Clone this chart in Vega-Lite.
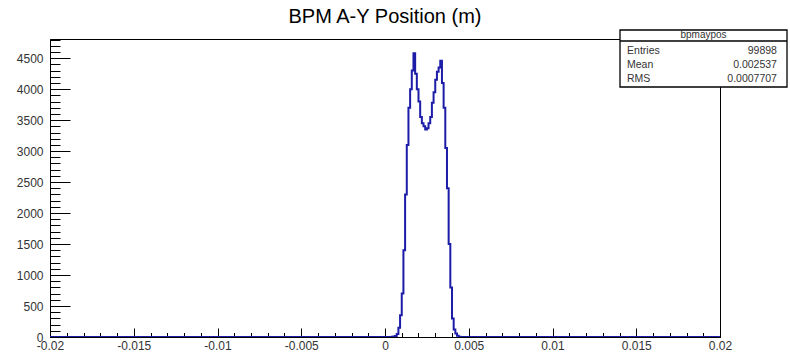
{
  "$schema": "https://vega.github.io/schema/vega-lite/v6.json",
  "width": 670,
  "height": 298,
  "autosize": {"type": "none"},
  "padding": {"left": 50, "top": 39, "right": 70, "bottom": 17},
  "background": "white",
  "view": {"stroke": "black", "strokeWidth": 1},
  "config": {"font": "Liberation Sans"},
  "title": {"text": "BPM A-Y Position (m)", "fontSize": 20, "fontWeight": "normal", "anchor": "middle", "offset": 2, "color": "black", "font": "Liberation Sans"},
  "datasets": {
    "hist": [
      {"x": -0.02, "n": 0},
      {"x": 0.0004, "n": 3},
      {"x": 0.0005, "n": 8},
      {"x": 0.0006, "n": 15},
      {"x": 0.0007, "n": 50},
      {"x": 0.0008, "n": 150},
      {"x": 0.0009, "n": 350},
      {"x": 0.0010, "n": 700},
      {"x": 0.0011, "n": 1400},
      {"x": 0.0012, "n": 2300},
      {"x": 0.0013, "n": 3100},
      {"x": 0.0014, "n": 3700},
      {"x": 0.0015, "n": 4000},
      {"x": 0.0016, "n": 4300},
      {"x": 0.0017, "n": 4580},
      {"x": 0.0018, "n": 4250},
      {"x": 0.0019, "n": 4000},
      {"x": 0.0020, "n": 3800},
      {"x": 0.0021, "n": 3550},
      {"x": 0.0022, "n": 3450},
      {"x": 0.0023, "n": 3400},
      {"x": 0.0024, "n": 3350},
      {"x": 0.0025, "n": 3370},
      {"x": 0.0026, "n": 3450},
      {"x": 0.0027, "n": 3550},
      {"x": 0.0028, "n": 3780},
      {"x": 0.0029, "n": 3950},
      {"x": 0.0030, "n": 4150},
      {"x": 0.0031, "n": 4280},
      {"x": 0.0032, "n": 4350},
      {"x": 0.0033, "n": 4460},
      {"x": 0.0034, "n": 4100},
      {"x": 0.0035, "n": 3700},
      {"x": 0.0036, "n": 3050},
      {"x": 0.0037, "n": 2400},
      {"x": 0.0038, "n": 1500},
      {"x": 0.0039, "n": 800},
      {"x": 0.0040, "n": 300},
      {"x": 0.0041, "n": 120},
      {"x": 0.0042, "n": 55},
      {"x": 0.0043, "n": 20},
      {"x": 0.0044, "n": 6},
      {"x": 0.0045, "n": 2},
      {"x": 0.0046, "n": 0},
      {"x": 0.02, "n": 0}
    ],
    "one": [{}]
  },
  "layer": [
    {
      "data": {"name": "hist"},
      "mark": {"type": "line", "interpolate": "step-after", "color": "#1c1ca8", "strokeWidth": 2, "clip": true},
      "encoding": {
        "x": {"field": "x", "type": "quantitative", "scale": {"domain": [-0.02, 0.02], "nice": false, "zero": false},
          "axis": {"orient": "bottom", "values": [-0.02, -0.015, -0.01, -0.005, 0, 0.005, 0.01, 0.015, 0.02], "labelExpr": "'' + datum.value", "tickSize": -9, "labelPadding": 12, "labelFontSize": 12, "labelColor": "#333", "tickColor": "black", "domainColor": "black", "title": null, "grid": false, "labelOverlap": false, "labelFlush": false, "labelBound": false}},
        "y": {"field": "n", "type": "quantitative", "scale": {"domain": [0, 4809], "nice": false},
          "axis": {"orient": "left", "values": [0, 500, 1000, 1500, 2000, 2500, 3000, 3500, 4000, 4500], "format": "d", "tickSize": -20, "labelPadding": 27, "labelFontSize": 12, "labelColor": "#333", "tickColor": "black", "domainColor": "black", "title": null, "grid": false, "labelOverlap": false, "labelFlush": false, "labelBound": false}}
      }
    },
    {
      "data": {"name": "hist"},
      "mark": {"type": "line", "opacity": 0},
      "encoding": {
        "x": {"field": "x", "type": "quantitative",
          "axis": {"orient": "bottom", "values": [-0.02, -0.019, -0.018, -0.017, -0.016, -0.015, -0.014, -0.013, -0.012, -0.011, -0.01, -0.009, -0.008, -0.007, -0.006, -0.005, -0.004, -0.003, -0.002, -0.001, 0, 0.001, 0.002, 0.003, 0.004, 0.005, 0.006, 0.007, 0.008, 0.009, 0.01, 0.011, 0.012, 0.013, 0.014, 0.015, 0.016, 0.017, 0.018, 0.019, 0.02], "tickSize": -4.5, "labels": false, "domain": false, "title": null, "grid": false, "tickColor": "black"}},
        "y": {"field": "n", "type": "quantitative",
          "axis": {"orient": "left", "values": [0, 100, 200, 300, 400, 500, 600, 700, 800, 900, 1000, 1100, 1200, 1300, 1400, 1500, 1600, 1700, 1800, 1900, 2000, 2100, 2200, 2300, 2400, 2500, 2600, 2700, 2800, 2900, 3000, 3100, 3200, 3300, 3400, 3500, 3600, 3700, 3800, 3900, 4000, 4100, 4200, 4300, 4400, 4500, 4600, 4700, 4800], "tickSize": -10, "labels": false, "domain": false, "title": null, "grid": false, "tickColor": "black"}}
      }
    },
    {
      "data": {"name": "one"},
      "mark": {"type": "rect", "fill": "white", "stroke": "black", "strokeWidth": 1.3, "clip": false},
      "encoding": {
        "x": {"datum": 0.01403, "type": "quantitative", "axis": null},
        "x2": {"datum": 0.0240},
        "y": {"datum": 4954, "type": "quantitative", "axis": null},
        "y2": {"datum": 4034}
      }
    },
    {
      "data": {"name": "one"},
      "mark": {"type": "rule", "stroke": "black", "strokeWidth": 1.3, "clip": false},
      "encoding": {
        "x": {"datum": 0.01403, "type": "quantitative", "axis": null},
        "x2": {"datum": 0.0240},
        "y": {"datum": 4777, "type": "quantitative", "axis": null}
      }
    },
    {
      "data": {"name": "one"},
      "mark": {"type": "text", "text": "bpmaypos", "fontSize": 10, "align": "center", "baseline": "middle", "color": "#333", "clip": false},
      "encoding": {
        "x": {"datum": 0.019015, "type": "quantitative", "axis": null},
        "y": {"datum": 4866, "type": "quantitative", "axis": null}
      }
    },
    {
      "data": {"name": "one"},
      "mark": {"type": "text", "text": ["Entries", "Mean", "RMS"], "lineHeight": 14, "fontSize": 10.5, "align": "left", "baseline": "alphabetic", "color": "#333", "clip": false},
      "encoding": {
        "x": {"datum": 0.01445, "type": "quantitative", "axis": null},
        "y": {"datum": 4575, "type": "quantitative", "axis": null}
      }
    },
    {
      "data": {"name": "one"},
      "mark": {"type": "text", "text": ["99898", "0.002537", "0.0007707"], "lineHeight": 14, "fontSize": 10.5, "align": "right", "baseline": "alphabetic", "color": "#333", "clip": false},
      "encoding": {
        "x": {"datum": 0.0234, "type": "quantitative", "axis": null},
        "y": {"datum": 4575, "type": "quantitative", "axis": null}
      }
    }
  ],
  "resolve": {"axis": {"x": "independent", "y": "independent"}}
}
